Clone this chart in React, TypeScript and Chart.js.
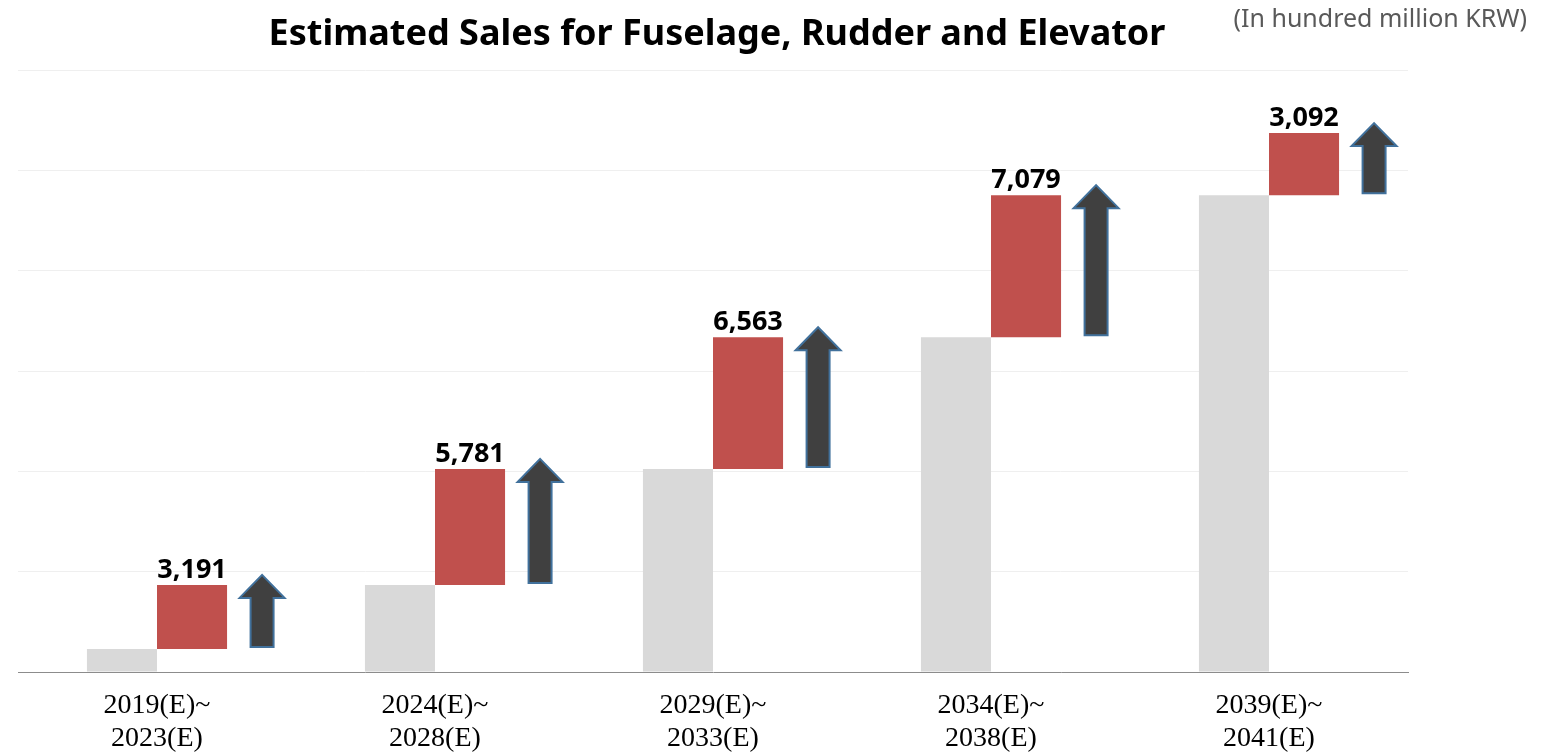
import React, { useEffect, useRef } from "react";
import { Chart, registerables } from "chart.js";

Chart.register(...registerables);

const categories: string[][] = [
  ["2019(E)~", "2023(E)"],
  ["2024(E)~", "2028(E)"],
  ["2029(E)~", "2033(E)"],
  ["2034(E)~", "2038(E)"],
  ["2039(E)~", "2041(E)"],
];
const baseValues: number[] = [1150, 4341, 10122, 16685, 23764];
const increments: number[] = [3191, 5781, 6563, 7079, 3092];
const yTicks = { min: 0, max: 30000, step: 5000 };
const titleText = "Estimated Sales for Fuselage, Rudder and Elevator";
const unitText = "(In hundred million KRW)";

const GRAY = "#D9D9D9";
const RED = "#C0504D";
const ARROW_FILL = "#404040";
const ARROW_STROKE = "#41719C";

const overlayPlugin = {
  id: "overlay",
  afterDatasetsDraw(chart: any) {
    const ctx = chart.ctx;
    const y = chart.scales.y;
    const meta = chart.getDatasetMeta(1);
    ctx.save();
    meta.data.forEach((bar: any, i: number) => {
      const base = baseValues[i];
      const inc = increments[i];
      const topPx = y.getPixelForValue(base + inc);
      const botPx = y.getPixelForValue(base);
      // value label
      ctx.fillStyle = "#000";
      ctx.font = "bold 27px 'Noto Sans', sans-serif";
      ctx.textAlign = "center";
      ctx.textBaseline = "alphabetic";
      ctx.fillText(inc.toLocaleString("en-US"), bar.x, topPx - 7);
      // arrow
      const cx = bar.x + bar.width;
      const shaftW = 23;
      const headW = 45;
      const headH = 23;
      const tip = topPx - 10;
      const bottom = botPx - 2;
      ctx.beginPath();
      ctx.moveTo(cx, tip);
      ctx.lineTo(cx + headW / 2, tip + headH);
      ctx.lineTo(cx + shaftW / 2, tip + headH);
      ctx.lineTo(cx + shaftW / 2, bottom);
      ctx.lineTo(cx - shaftW / 2, bottom);
      ctx.lineTo(cx - shaftW / 2, tip + headH);
      ctx.lineTo(cx - headW / 2, tip + headH);
      ctx.closePath();
      ctx.fillStyle = ARROW_FILL;
      ctx.fill();
      ctx.strokeStyle = ARROW_STROKE;
      ctx.lineWidth = 2;
      ctx.lineJoin = "miter";
      ctx.stroke();
    });
    // titles
    ctx.fillStyle = "#000";
    ctx.font = "bold 36px 'Noto Sans', sans-serif";
    ctx.textAlign = "center";
    ctx.textBaseline = "middle";
    ctx.fillText(titleText, 717, 35);
    ctx.fillStyle = "#595959";
    ctx.font = "25px 'Noto Sans', sans-serif";
    ctx.textAlign = "right";
    ctx.fillText(unitText, 1527, 20);
    ctx.restore();
  },
};

export default function App() {
  const ref = useRef<HTMLCanvasElement | null>(null);
  useEffect(() => {
    if (!ref.current) return;
    const chart = new Chart(ref.current, {
      type: "bar",
      data: {
        labels: categories,
        datasets: [
          {
            label: "Base",
            data: baseValues,
            backgroundColor: GRAY,
            borderWidth: 0,
            categoryPercentage: 0.504,
            barPercentage: 1,
          },
          {
            label: "Increase",
            data: baseValues.map((b, i) => [b, b + increments[i]]) as any,
            backgroundColor: RED,
            borderWidth: 0,
            categoryPercentage: 0.504,
            barPercentage: 1,
          },
        ],
      },
      options: {
        responsive: false,
        animation: false,
        layout: { padding: { left: 18, right: 138, top: 70, bottom: 0 } },
        plugins: {
          legend: { display: false },
          tooltip: { enabled: false },
          title: { display: false },
        },
        scales: {
          x: {
            grid: { display: false, drawTicks: false },
            border: { display: true, color: "#8C8C8C", width: 1 },
            afterFit: (scale: any) => {
              scale.height = 81;
            },
            ticks: {
              color: "#000",
              padding: 17,
              maxRotation: 0,
              font: { family: "'Liberation Serif', serif", size: 28, lineHeight: 1.18 },
            },
          },
          y: {
            min: yTicks.min,
            max: yTicks.max,
            ticks: { display: false, stepSize: yTicks.step },
            grid: {
              drawTicks: false,
              color: (c: any) => (c.tick && c.tick.value === 0 ? "rgba(0,0,0,0)" : "#EFEFEF"),
            },
            border: { display: false },
          },
        },
      },
      plugins: [overlayPlugin],
    });
    return () => chart.destroy();
  }, []);
  return (
    <div style={{ position: "absolute", left: 0, top: 0, width: 1546, height: 753, background: "#fff" }}>
      <canvas ref={ref} width={1546} height={753} />
    </div>
  );
}
